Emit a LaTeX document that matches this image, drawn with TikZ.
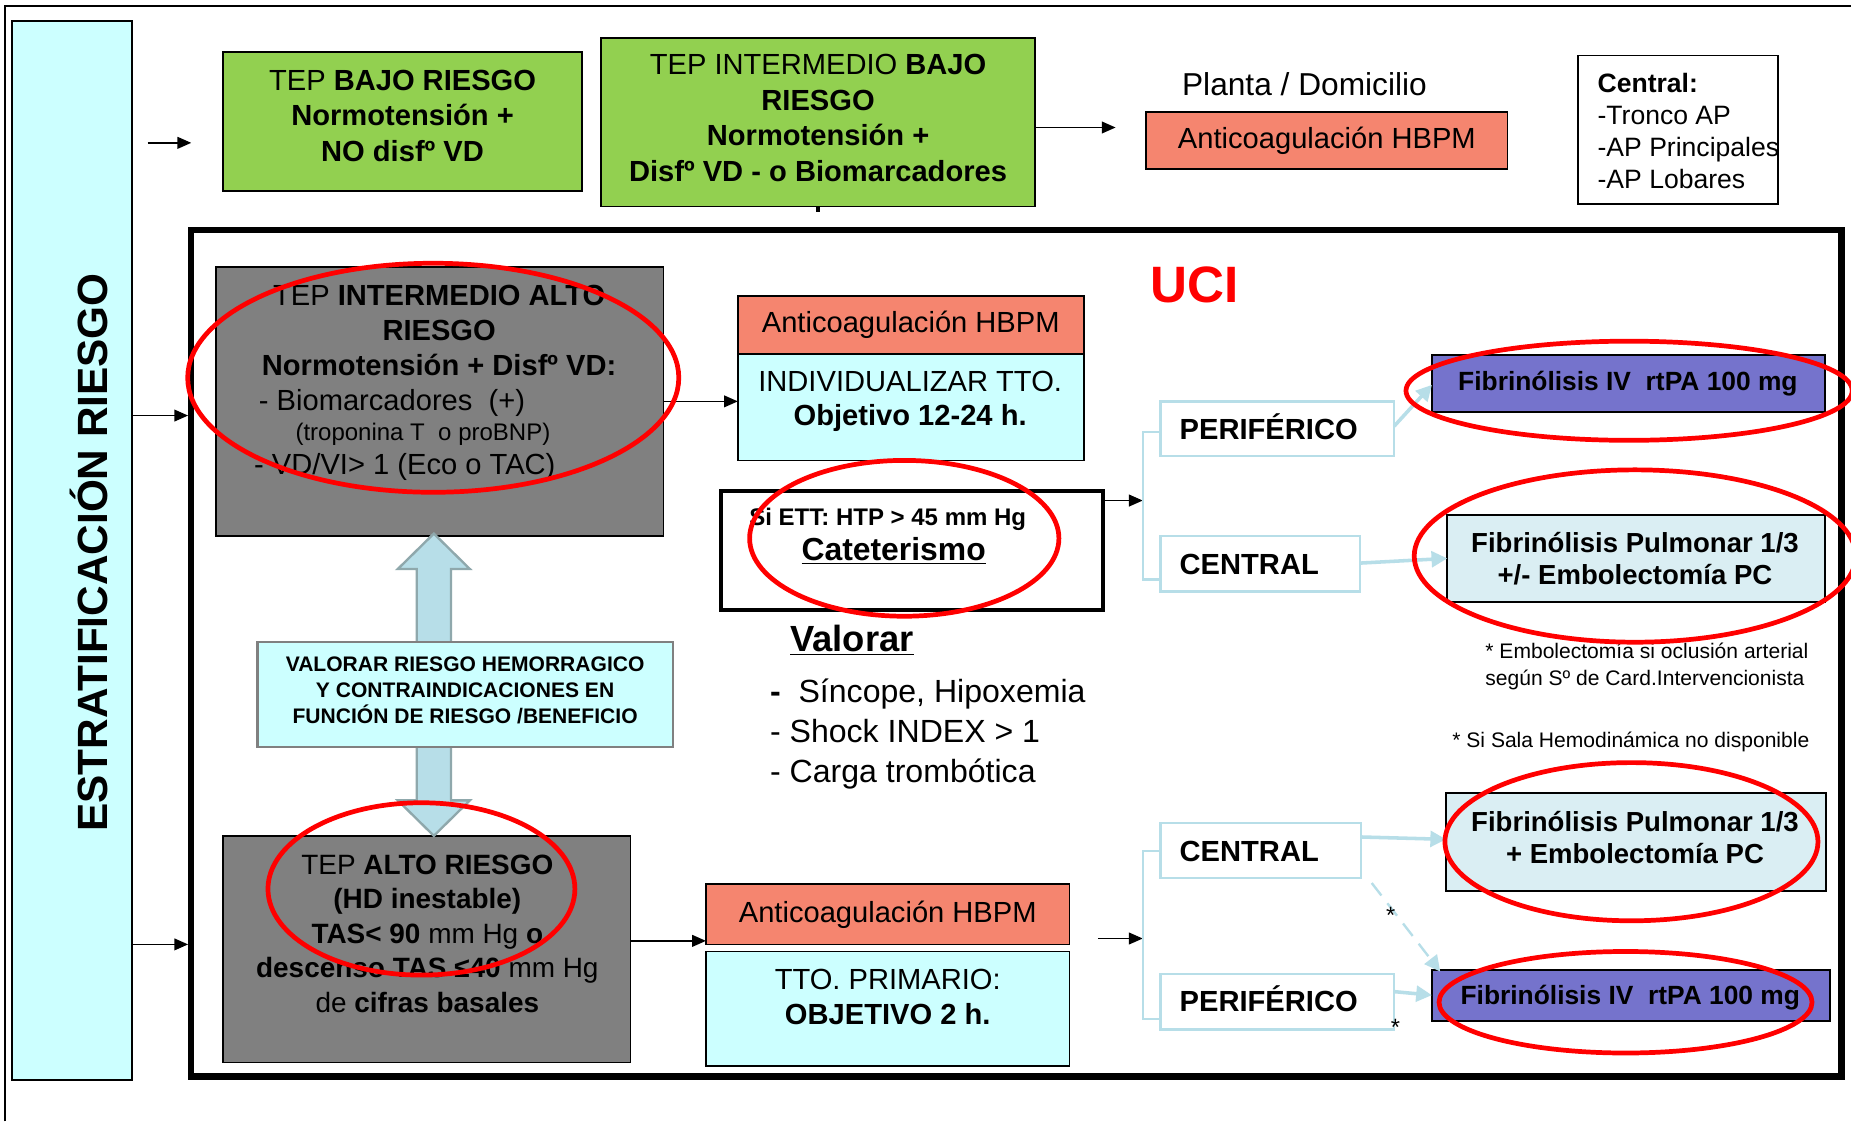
\documentclass[tikz,border=0pt]{standalone}
\usepackage{fontspec}
\setmainfont{Liberation Sans}
\usetikzlibrary{arrows.meta,calc}
\definecolor{cyanbox}{HTML}{CCFFFF}
\definecolor{greenbox}{HTML}{92D050}
\definecolor{salmon}{HTML}{F5856F}
\definecolor{greybox}{HTML}{808080}
\definecolor{purplebox}{HTML}{7573CC}
\definecolor{paleblue}{HTML}{DAEEF3}
\definecolor{linkblue}{HTML}{B7DEE8}
\definecolor{arrowedge}{HTML}{8FA8AC}
\newcommand\fsz[2]{\fontsize{#1pt}{#2pt}\selectfont}
\newcommand\bx[7]{\node[#6, minimum width={(#4-#2)*0.6pt}, minimum height={(#5-#3)*0.6pt}] (#1) at ({(#2+#4)/2},{(#3+#5)/2}) {#7};}
\tikzset{
  box/.style={draw=black, line width=0.9pt, inner sep=0pt, outer sep=0pt},
  lbox/.style={draw=linkblue, line width=1.2pt, fill=white, inner sep=0pt, outer sep=0pt},
  arr/.style={-{Triangle[length=7pt,width=6pt]}, line width=0.7pt},
  larr/.style={draw=linkblue, line width=1.8pt, -{Triangle[length=8pt,width=8pt]}},
  oval/.style={draw=red, line width=2.4pt},
  lbl/.style={inner sep=0pt, align=center},
  base/.style={font=\fsz{14.8}{18}},
}
\begin{document}
\begin{tikzpicture}[x=0.6pt, y=-0.6pt]
\useasboundingbox (0,0) rectangle (1568,950);
\fill[white] (0,0) rectangle (1568,950);
% outer frame
\draw[line width=1.2pt] (4,950) -- (4,5) -- (1568,5);
% left box
\bx{lb}{10}{18}{112}{915}{box, fill=cyanbox}{}
\node[lbl, rotate=90, font=\fsz{21.5}{26}\bfseries] (lbt) at (75,468) {ESTRATIFICACIÓN RIESGO};
% top row
\coordinate (a0s) at (125,121);
\coordinate (a0e) at (162,121);
\draw[arr] (a0s) -- (a0e);
\bx{ga}{189}{44}{493}{162}{box, fill=greenbox}{}
\node[lbl, base] (gat) at (341,98) {TEP \textbf{BAJO RIESGO}\\\textbf{Normotensión +}\\\textbf{NO disfº VD}};
\bx{gb}{509}{32}{877}{175}{box, fill=greenbox}{}
\node[lbl, base] (gbt) at (693,100) {TEP INTERMEDIO \textbf{BAJO}\\\textbf{RIESGO}\\\textbf{Normotensión +}\\\textbf{Disfº VD - o Biomarcadores}};
\draw[line width=2pt] (gb.south) -- ++(0,5);
\coordinate (a1e) at (945,108);
\draw[arr] (gb.east |- a1e) -- (a1e);
\node[lbl, font=\fsz{16.1}{19}] (pl) at (1105,71) {Planta / Domicilio};
\bx{s0}{971}{95}{1277}{143}{box, fill=salmon}{}
\node[lbl, base] (s0t) at (s0) {Anticoagulación HBPM};
\bx{cb}{1337}{47}{1506}{173}{box, fill=white}{}
\node[lbl, align=left, anchor=north west, font=\fsz{13.5}{16.2}] (cbt) at (1353,62) {\textbf{Central:}\\-Tronco AP\\-AP Principales\\-AP Lobares};
% UCI frame
\bx{uci}{162}{195}{1560}{912}{draw=black, line width=3.2pt, inner sep=0pt}{}
\node[lbl, text=red, font=\fsz{26}{30}\bfseries] (ucit) at (1012,241) {UCI};
\draw[arr] (lb.east |- 0,352) -- (uci.west |- 0,352);
\draw[arr] (lb.east |- 0,800) -- (uci.west |- 0,800);
% grey box 1
\bx{g1}{183}{226}{562}{454}{box, fill=greybox}{}
\node[lbl, font=\fsz{14.8}{17.7}] (g1a) at (372,280) {TEP \textbf{INTERMEDIO ALTO}\\\textbf{RIESGO}\\\textbf{Normotensión + Disfº VD:}};
\node[lbl, anchor=base west, base] (g1b) at (219,348) {- Biomarcadores~~(+)};
\node[lbl, anchor=base west, font=\fsz{12.2}{14}] (g1c) at (250,373) {(troponina T~~o proBNP)};
\node[lbl, anchor=base west, base] (g1d) at (215,402) {- VD/VI> 1 (Eco o TAC)};
% salmon/cyan 2
\bx{s1}{625}{251}{918}{300}{box, fill=salmon}{}
\node[lbl, base] (s1t) at (s1) {Anticoagulación HBPM};
\bx{cy2}{625}{300}{918}{390}{box, fill=cyanbox}{}
\node[lbl, font=\fsz{14.8}{17.4}] (cy2t) at (771,340) {INDIVIDUALIZAR TTO.\\\textbf{Objetivo 12-24 h.}};
\draw[arr] (g1.east |- 0,340) -- (cy2.west |- 0,340);
% Si ETT
\bx{ett}{611}{416}{934}{517}{draw=black, line width=2pt, fill=white, inner sep=0pt}{}
\node[lbl, font=\fsz{12.2}{14}\bfseries] (ett1) at (752,440) {Si ETT: HTP > 45 mm Hg};
\node[lbl, font=\fsz{16.2}{19}\bfseries] (ett2) at (757,467) {\underline{Cateterismo}};
\coordinate (b1) at (968,424);
\draw[arr] (ett.east |- b1) -- (b1);
% periferico/central 1
\bx{per1}{983}{340}{1181}{386}{lbox}{}
\node[lbl, anchor=base west, font=\fsz{14.8}{18}\bfseries] (per1t) at (999,372) {PERIFÉRICO};
\bx{cen1}{983}{454}{1152}{501}{lbox}{}
\node[lbl, anchor=base west, font=\fsz{14.8}{18}\bfseries] (cen1t) at (999,487) {CENTRAL};
\draw[linkblue, line width=1.2pt] (per1.west |- 0,366) -- (968,366) -- (968,491) -- (cen1.west |- 0,491);
\bx{pu1}{1213}{301}{1546}{349}{box, fill=purplebox}{}
\node[lbl, font=\fsz{13.4}{16}\bfseries] (pu1t) at (1379,325) {Fibrinólisis IV~~rtPA 100 mg};
\bx{pm1}{1226}{436}{1546}{510}{box, fill=paleblue}{}
\node[lbl, font=\fsz{14}{16.2}\bfseries] (pm1t) at (1385,473.5) {Fibrinólisis Pulmonar 1/3\\+/- Embolectomía PC};
\draw[larr] (per1.east |- 0,361) -- (pu1.west |- 0,326);
\draw[larr] (cen1.east |- 0,477) -- (pm1.west |- 0,473);
% footnotes
\node[lbl, anchor=west, align=left, font=\fsz{10.7}{13.8}] (fn1) at (1258,564.5) {* Embolectomía si oclusión arterial\\según Sº de Card.Intervencionista};
\node[lbl, anchor=base west, font=\fsz{10.7}{13}] (fn2) at (1230,633) {* Si Sala Hemodinámica no disponible};
% grey box 2
\bx{g2}{189}{708}{534}{900}{box, fill=greybox}{}
\node[lbl, font=\fsz{14.2}{17.55}] (g2t) at (362,791) {TEP \textbf{ALTO RIESGO}\\\textbf{(HD inestable)}\\\textbf{TAS< 90} mm Hg \textbf{o}\\\textbf{descenso TAS ≤40} mm Hg\\de \textbf{cifras basales}};
% double arrow
\filldraw[fill=linkblue, draw=arrowedge, line width=1.2pt] (367.5,452) -- (398,482) -- (382,482) -- (382,678) -- (398,678) -- (367.5,708) -- (337,678) -- (353,678) -- (353,482) -- (337,482) -- cycle;
\bx{val}{218}{544}{570}{633}{draw=greybox, line width=1.2pt, fill=cyanbox, inner sep=0pt}{}
\node[lbl, font=\fsz{10.7}{13.2}\bfseries] (valt) at (394,585) {VALORAR RIESGO HEMORRAGICO\\Y CONTRAINDICACIONES EN\\FUNCIÓN DE RIESGO /BENEFICIO};
% Valorar list
\node[lbl, anchor=base west, font=\fsz{18.5}{22}\bfseries] (vt) at (669,552) {\underline{Valorar}};
\node[lbl, anchor=base west, font=\fsz{16.3}{20}] (v1) at (652,595) {{\bfseries -}~~Síncope, Hipoxemia};
\node[lbl, anchor=base west, font=\fsz{16.3}{20}] (v2) at (652,629) {- Shock INDEX > 1};
\node[lbl, anchor=base west, font=\fsz{16.3}{20}] (v3) at (652,663) {- Carga trombótica};
% salmon/cyan 3
\bx{s2}{598}{749}{906}{800}{box, fill=salmon}{}
\node[lbl, base] (s2t) at (s2) {Anticoagulación HBPM};
\bx{cy3}{598}{806}{906}{903}{box, fill=cyanbox}{}
\node[lbl, font=\fsz{14.8}{17.4}] (cy3t) at (752,844.5) {TTO. PRIMARIO:\\\textbf{OBJETIVO 2 h.}};
\draw[arr] (g2.east |- 0,797) -- (s2.west |- 0,797);
\coordinate (c2s) at (930,795);
\coordinate (b2) at (968,795);
\draw[arr] (c2s) -- (b2);
% central/periferico 2
\bx{cen2}{983}{697}{1153}{744}{lbox}{}
\node[lbl, anchor=base west, font=\fsz{14.8}{18}\bfseries] (cen2t) at (999,730) {CENTRAL};
\bx{per2}{983}{825}{1181}{872}{lbox}{}
\node[lbl, anchor=base west, font=\fsz{14.8}{18}\bfseries] (per2t) at (999,857) {PERIFÉRICO};
\draw[linkblue, line width=1.2pt] (cen2.west |- 0,721) -- (968,721) -- (968,863) -- (per2.west |- 0,863);
\bx{pm2}{1225}{672}{1547}{755}{box, fill=paleblue}{}
\node[lbl, font=\fsz{14}{16.2}\bfseries] (pm2t) at (1385,709.5) {Fibrinólisis Pulmonar 1/3\\+ Embolectomía PC};
\bx{pu2}{1213}{822}{1550}{865}{box, fill=purplebox}{}
\node[lbl, font=\fsz{13.4}{16}\bfseries] (pu2t) at (1381,845) {Fibrinólisis IV~~rtPA 100 mg};
\draw[larr] (cen2.east |- 0,709) -- (pm2.west |- 0,711);
\draw[larr] (per2.east |- 0,840) -- (pu2.west |- 0,843);
\coordinate (d1) at (1162,748);
\coordinate (d2) at (1220,823);
\draw[larr, line width=1.2pt, dash pattern=on 8pt off 5pt] (d1) -- (d2);
\node[lbl, font=\fsz{12}{14}] (st1) at (1178,775) {*};
\node[lbl, font=\fsz{12}{14}] (st2) at (1182,870) {*};
% red ovals
\draw[oval] (367,320) ellipse [x radius=124.8pt, y radius=58.2pt];
\draw[oval] (766,456) ellipse [x radius=78.6pt, y radius=39.6pt];
\draw[oval] (1380,331) ellipse [x radius=113.4pt, y radius=25.2pt];
\draw[oval] (1385,471) ellipse [x radius=112.2pt, y radius=43.8pt];
\draw[oval] (357,753) ellipse [x radius=78pt, y radius=43.8pt];
\draw[oval] (1382,713) ellipse [x radius=94.8pt, y radius=40.2pt];
\draw[oval] (1377,849) ellipse [x radius=94.8pt, y radius=25.8pt];
\end{tikzpicture}
\end{document}
